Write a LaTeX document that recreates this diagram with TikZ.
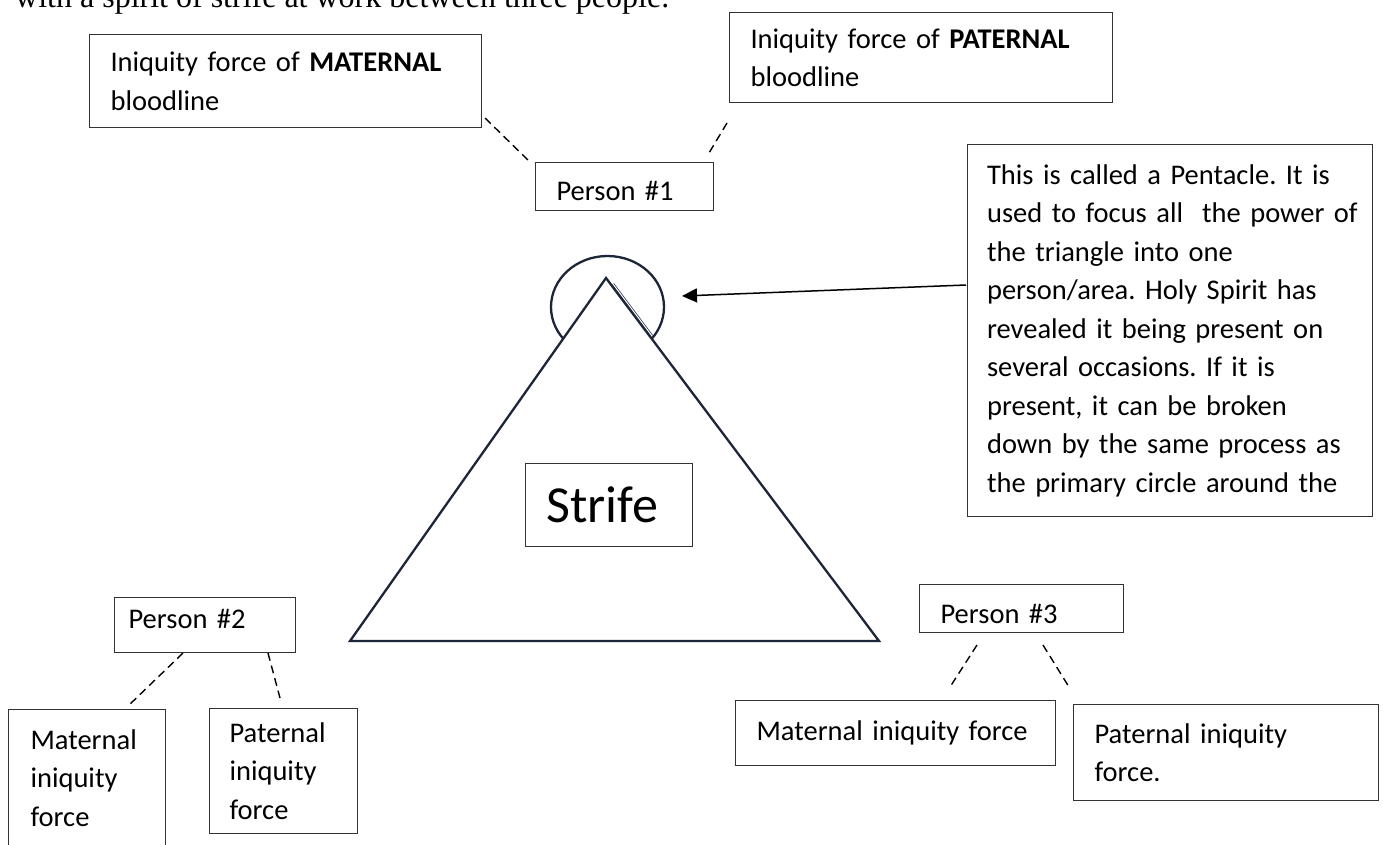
\documentclass[tikz,border=0pt]{standalone}
\usepackage{fontspec}
\setmainfont{Carlito}
\newfontfamily\timesfont{Liberation Serif}
\usetikzlibrary{arrows.meta}
\definecolor{shapeline}{HTML}{1C2638}
\hyphenpenalty=10000
\frenchspacing

\begin{document}
\begin{tikzpicture}[x=1pt,y=-1pt,
	box/.style={draw=black!80,line width=1.1pt,anchor=north west,align=left,inner xsep=21pt,inner ysep=0pt,font=\fontsize{28.5}{38.5}\selectfont},
	link/.style={dash pattern=on 8pt off 5pt,line width=1.4pt},
	navy/.style={draw=shapeline,line width=2.3pt}]

	\useasboundingbox (0,0) rectangle (1383,844);
	\fill[white] (0,0) rectangle (1383,844);

	% sentence above the figure, cut off at the top
	\begin{scope}
		\clip (0,0) rectangle (1383,844);
		\node[anchor=base west,inner sep=0pt,font=\timesfont\fontsize{32}{38}\selectfont] (intro) at (15,7) {with a spirit of strife at work between three people.};
	\end{scope}

	% triangle with the circle at its top
	\draw[navy] (607.5,307) ellipse [x radius=56.5,y radius=51];
	\draw[navy,fill=white] (606,278) -- (879,641) -- (350,641) -- cycle;
	\draw[shapeline,double=white,double distance=1pt,line width=0.7pt] (613,284) -- (652,336);

	\node[box,text width=350pt,minimum height=93pt]								(matbl)		at (89,34)		{Iniquity force of \textbf{MATERNAL}\\bloodline};
	\node[box,text width=341pt,minimum height=90pt]								(patbl)		at (729,12)		{\mbox{Iniquity force of \textbf{PATERNAL}}\\bloodline};
	\node[box,text width=136pt,minimum height=48pt,text height=28pt,text depth=0pt]	(p1)		at (535,162)	{Person \#1};
	\node[box,text width=366pt,inner xsep=19.5pt,minimum height=372pt]			(pentacle)	at (967,144)	{This is called a Pentacle. It is\\\mbox{used to focus all\ \ the power of}\\the triangle into one\\person/area. Holy Spirit has\\revealed it being present on\\several occasions. If it is\\present, it can be broken\\\mbox{down by the same process as}\\\mbox{the primary circle around the}};
	\node[box,text width=125pt,minimum height=83pt,font=\fontsize{52}{62}\selectfont]	(strife)	at (525,463)	{Strife};

	\node[box,text width=153pt,inner xsep=14pt,minimum height=55pt,text height=7pt,text depth=0pt]	(p2)	at (114,597)	{Person \#2};
	\node[box,text width=113pt,inner xsep=22pt,minimum height=137pt]			(mat2)		at (8,709)		{Maternal\\iniquity\\force};
	\node[box,text width=108pt,inner xsep=20pt,minimum height=125pt]			(pat2)		at (209,708)	{Paternal\\iniquity\\force};

	\node[box,text width=162pt,minimum height=48pt,text height=30pt,text depth=0pt]	(p3)		at (919,584)	{Person \#3};
	\node[box,text width=278pt,minimum height=65pt]								(mat3)		at (735,700)	{Maternal iniquity force};
	\node[box,text width=263pt,minimum height=96pt]								(pat3)		at (1073,704)	{Paternal iniquity\\force.};

	% loose ends of the dashed links
	\coordinate (1a) at (485,118);	\coordinate (1b) at (530,162);
	\coordinate (1c) at (727,123);	\coordinate (1d) at (709,153);
	\coordinate (2a) at (183,653);	\coordinate (2b) at (127,707);
	\coordinate (2c) at (268,653);	\coordinate (2d) at (280,698);
	\coordinate (3a) at (977,645);	\coordinate (3b) at (950,687);
	\coordinate (3c) at (1043,645);	\coordinate (3d) at (1069,687);

	\draw[link] (1a) -- (1b);
	\draw[link] (1c) -- (1d);
	\draw[link] (2a) -- (2b);
	\draw[link] (2c) -- (2d);
	\draw[link] (3a) -- (3b);
	\draw[link] (3c) -- (3d);

	% pointer from the note to the circle
	\coordinate (note) at (966,285);
	\coordinate (tip) at (682,296);
	\draw[line width=1.5pt,-{Triangle[length=15pt,width=14pt]}] (note) -- (tip);
\end{tikzpicture}
\end{document}
